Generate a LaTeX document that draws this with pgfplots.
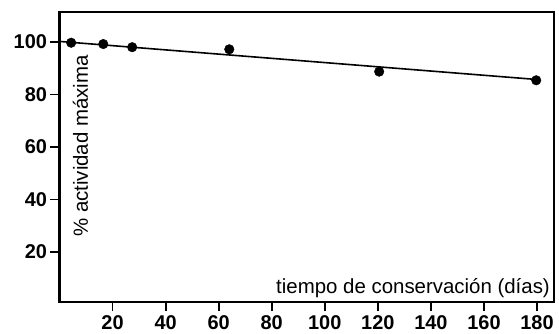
\documentclass[border=0pt]{standalone}
\usepackage{pgfplots}
\pgfplotsset{compat=1.18}
\usepackage{fontspec}
\setmainfont{Liberation Sans}
\begin{document}
\begin{tikzpicture}
\begin{axis}[
  scale only axis,
  width=494.5bp, height=290bp,
  xmin=0, xmax=186.4, ymin=1, ymax=111.4,
  xtick={20,40,...,180}, ytick={20,40,...,100},
  xtick pos=bottom, ytick pos=left,
  tick align=outside,
  major tick length=9bp,
  axis line style={line width=2.6bp},
  every tick/.style={black, line width=1.8bp},
  tick label style={font=\fontsize{20}{21}\selectfont\bfseries},
  /pgf/number format/assume math mode=true,
  xticklabel style={yshift=-1bp},
  clip=false,
]
\addplot[black, line width=1.6bp, no marks] coordinates {(0,100.2) (180,85.7)};
\addplot[only marks, mark=*, mark size=4.8bp, black] coordinates {
(4.4,99.7) (16.5,99.2) (27.4,98.0) (64,97.2) (120.5,88.7) (179.7,85.4)};
\node[rotate=90, anchor=center, font=\fontsize{20.5}{21}\selectfont] at (axis cs:7.9,60.4) {\% actividad máxima};
\node[anchor=base east, inner sep=0pt, font=\fontsize{20.5}{21}\selectfont] at (axis cs:184.9,4.4) {tiempo de conservación (días)};
\end{axis}
\useasboundingbox ([shift={(-59.5bp,-32bp)}]current axis.south west) rectangle ([shift={(5bp,12bp)}]current axis.north east);
\end{tikzpicture}
\end{document}
